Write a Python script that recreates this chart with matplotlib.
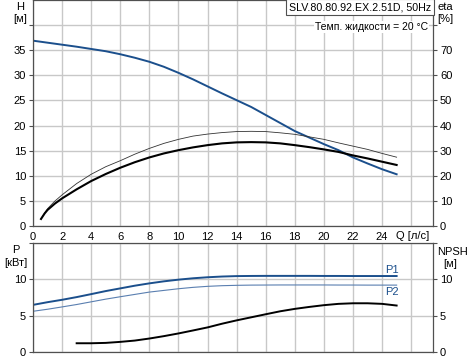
import matplotlib
matplotlib.use("Agg")
import matplotlib.pyplot as plt

plt.rcParams['font.family'] = ['Liberation Sans', 'DejaVu Sans']
plt.rcParams['font.size'] = 8

BLUE = '#1b4f8c'
GRID = '#c8c8c8'

# head curve H [m], read every 1 l/s
q_h = list(range(0, 26))
h = [36.9, 36.5, 36.1, 35.7, 35.25, 34.8, 34.2, 33.5, 32.7, 31.7, 30.5, 29.2, 27.8,
     26.4, 25.05, 23.7, 22.1, 20.5, 18.9, 17.6, 16.3, 15.1, 13.65, 12.45, 11.3, 10.3]

# efficiency curves eta [%]
q_eta = [0.55, 0.8, 1, 1.5] + list(range(2, 26))
eta1 = [2.8, 5.0, 6.4, 8.9, 11.0, 14.6, 17.9, 20.7, 23.2, 25.4, 27.3, 28.9, 30.2, 31.3, 32.2,
        32.9, 33.3, 33.4, 33.3, 32.9, 32.2, 31.4, 30.5, 29.5, 28.1, 26.9, 25.6, 24.3]
eta2 = [2.8, 5.2, 6.9, 9.9, 12.4, 16.9, 20.6, 23.6, 26.0, 28.6, 30.9, 32.9, 34.5, 35.8, 36.6,
        37.2, 37.6, 37.7, 37.6, 37.1, 36.5, 35.5, 34.5, 33.1, 31.8, 30.5, 28.9, 27.4]

# power curves P [kW]
q_p = list(range(0, 26))
p1 = [6.48, 6.85, 7.18, 7.55, 7.96, 8.38, 8.75, 9.12, 9.44, 9.72, 9.95, 10.14, 10.28,
      10.38, 10.44, 10.46, 10.47, 10.47, 10.47, 10.47, 10.46, 10.46, 10.45, 10.45, 10.45, 10.45]
p2 = [5.6, 5.88, 6.2, 6.53, 6.9, 7.27, 7.6, 7.92, 8.24, 8.47, 8.7, 8.89, 9.03,
      9.12, 9.17, 9.2, 9.21, 9.22, 9.22, 9.22, 9.22, 9.21, 9.21, 9.2, 9.2, 9.2]

# NPSH [m]
q_npsh = list(range(3, 26))
npsh = [1.2, 1.2, 1.25, 1.39, 1.57, 1.85, 2.18, 2.55, 2.96, 3.38, 3.89, 4.35, 4.77,
        5.19, 5.6, 5.93, 6.2, 6.44, 6.62, 6.7, 6.7, 6.62, 6.39]

x_ticks = list(range(0, 26, 2))
fig = plt.figure(figsize=(4.73, 3.61), dpi=100)
ax1 = fig.add_axes([0.0698, 0.374, 0.8456, 0.626])
ax2 = fig.add_axes([0.0698, 0.025, 0.8456, 0.302])


def style(ax):
    ax.set_xlim(0, 27.5)
    ax.set_xticks(list(range(0, 27, 2)))
    ax.grid(True, color=GRID, linewidth=1.0)
    ax.set_axisbelow(True)
    for s in ax.spines.values():
        s.set_color('#505050')
        s.set_linewidth(0.9)
    ax.tick_params(length=3, width=0.8, color='#505050', pad=2)


style(ax1)
ax1.set_ylim(0, 45)
ax1.set_yticks(range(0, 45, 5))
ax1.set_yticklabels([str(v) for v in range(0, 40, 5)] + [''])
ax1.set_xticklabels([str(v) for v in x_ticks] + [''])
ax1.tick_params(axis='x', length=0, pad=4)
ax1.plot(q_h, h, color=BLUE, linewidth=1.4)

ax1r = ax1.twinx()
ax1r.set_ylim(0, 90)
ax1r.set_yticks(range(0, 90, 10))
ax1r.set_yticklabels([str(v) for v in range(0, 80, 10)] + [''])
ax1r.tick_params(length=3, width=0.8, color='#505050', pad=2)
for s in ax1r.spines.values():
    s.set_visible(False)
ax1r.plot(q_eta, eta2, color='#333333', linewidth=0.6)
ax1r.plot(q_eta, eta1, color='black', linewidth=1.5)

style(ax2)
ax2.set_ylim(0, 15)
ax2.set_yticks([0, 5, 10, 15])
ax2.set_yticklabels(['0', '5', '10', ''])
ax2.set_xticklabels([])
ax2.tick_params(axis='x', length=0)
ax2.plot(q_p, p2, color='#5a7fb0', linewidth=0.8)
ax2.plot(q_p, p1, color=BLUE, linewidth=1.4)

ax2r = ax2.twinx()
ax2r.set_ylim(0, 15)
ax2r.set_yticks([0, 5, 10, 15])
ax2r.set_yticklabels(['0', '5', '10', ''])
ax2r.tick_params(length=3, width=0.8, color='#505050', pad=2)
for s in ax2r.spines.values():
    s.set_visible(False)
ax2r.plot(q_npsh, npsh, color='black', linewidth=1.4)

# axis captions
fig.text(20 / 473, 1 - 7 / 361, 'H', ha='center', va='center')
fig.text(20 / 473, 1 - 19 / 361, '[м]', ha='center', va='center')
fig.text(445 / 473, 1 - 7 / 361, 'eta', ha='center', va='center')
fig.text(445 / 473, 1 - 19 / 361, '[%]', ha='center', va='center')
fig.text(16 / 473, 1 - 250 / 361, 'P', ha='center', va='center')
fig.text(16 / 473, 1 - 263 / 361, '[кВт]', ha='center', va='center')
fig.text(452 / 473, 1 - 252 / 361, 'NPSH', ha='center', va='center')
fig.text(450 / 473, 1 - 264 / 361, '[м]', ha='center', va='center')
fig.text(413 / 473, 1 - 236 / 361, 'Q [л/с]', ha='center', va='center')

fig.text(431 / 473, 1 - 7 / 361, 'SLV.80.80.92.EX.2.51D, 50Hz', ha='right', va='center',
         fontsize=7.7,
         bbox=dict(boxstyle='square,pad=0.25', facecolor='white', edgecolor='#505050', linewidth=0.8))
fig.text(428 / 473, 1 - 27 / 361, 'Темп. жидкости = 20 °C', ha='right', va='center',
         fontsize=7.5,
         bbox=dict(boxstyle='square,pad=0.1', facecolor='white', edgecolor='none'))

ax2.text(24.2, 11.3, 'P1', color=BLUE, ha='left', va='center')
ax2.text(24.2, 8.3, 'P2', color=BLUE, ha='left', va='center')

fig.savefig('out.png', dpi=100)
